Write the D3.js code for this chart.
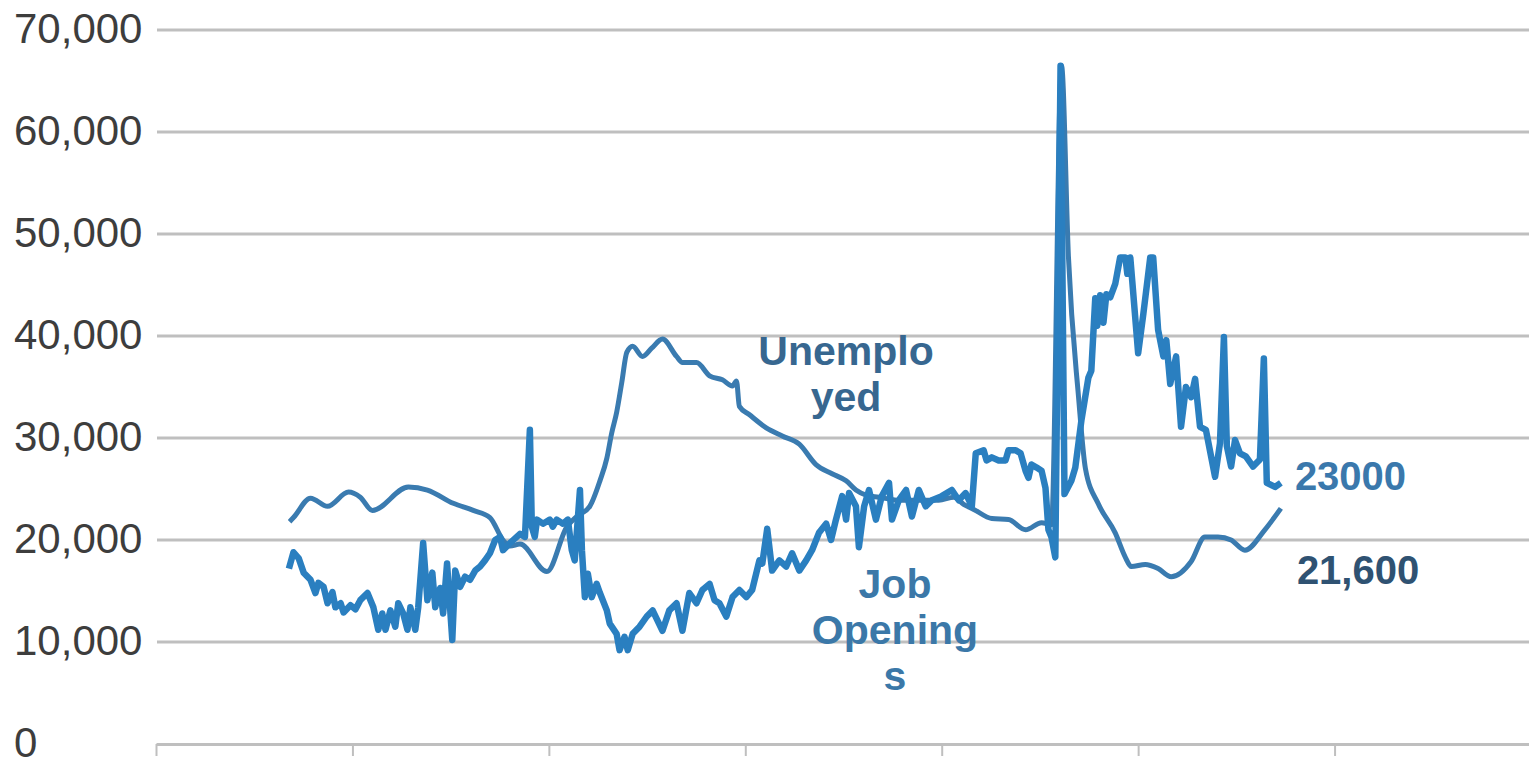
<!DOCTYPE html>
<html>
<head>
<meta charset="utf-8">
<script src="https://cdn.jsdelivr.net/npm/d3@7"></script>
<style>
    body { margin: 0; background: #fff; }
    svg { display: block; }
</style>
</head>
<body>
<svg id="chart"></svg>
<script>
// month index from the start of the axis, value
const unemployed = [
    [40.8, 21800], [42.0, 22200], [47.2, 24100], [52.4, 23300], [58.8, 24700], [62.4, 24200],
    [66.1, 22900], [77.1, 25200], [82.9, 24900], [90.8, 23600], [96.9, 22900], [102.0, 22200],
    [106.0, 20000], [108.1, 19400], [111.2, 19600], [119.4, 16900], [125.5, 21300], [128.5, 22300],
    [132.5, 23300], [135.6, 25800], [137.7, 28000], [139.2, 30500], [140.7, 32500], [142.3, 35500],
    [143.8, 38400], [145.6, 39000], [148.6, 38000], [151.4, 38800], [154.7, 39700], [159.0, 38000],
    [160.8, 37400], [165.1, 37400], [169.1, 36100], [173.0, 35700], [176.1, 35100], [177.3, 35600],
    [178.2, 33100], [181.2, 32300], [186.4, 31000], [191.3, 30200], [196.5, 29400], [201.6, 27400],
    [206.5, 26500], [210.8, 25800], [213.8, 24900], [216.9, 24400], [220.8, 24200], [226.9, 23900],
    [233.0, 23900], [239.1, 23900], [243.7, 24200], [246.7, 23500], [249.8, 23000], [255.3, 22100],
    [260.4, 22000], [265.6, 21000], [270.5, 21700], [273.5, 21500], [276.6, 66500], [278.7, 47800],
    [281.8, 34000], [283.9, 27000], [287.9, 23500], [293.0, 20700], [296.1, 18300], [297.9, 17400],
    [302.2, 17600], [306.1, 17200], [310.1, 16400], [316.2, 17900], [320.4, 20300], [324.4, 20300],
    [328.4, 20000], [332.6, 19000], [338.7, 21000], [343.6, 23100]
];

const jobOpenings = [
    [40.6, 17200], [42.0, 18800], [43.6, 18200], [45.1, 16800], [47.2, 16100], [48.7, 14800],
    [49.6, 15800], [51.2, 15400], [52.4, 13800], [53.9, 14900], [54.8, 13400], [56.4, 13800],
    [57.3, 12900], [59.4, 13600], [60.9, 13200], [62.4, 14100], [64.6, 14800], [66.4, 13400],
    [67.9, 11200], [69.1, 12800], [70.1, 11200], [71.6, 13100], [73.1, 11500], [74.0, 13800],
    [75.5, 12800], [76.8, 11200], [77.7, 13400], [79.2, 11200], [80.1, 13400], [81.6, 19700],
    [82.9, 14100], [84.4, 16800], [85.3, 13400], [86.8, 15300], [87.7, 12800], [88.9, 17700],
    [90.5, 10200], [91.4, 17000], [92.9, 15400], [94.4, 16400], [95.9, 16100], [97.5, 17000],
    [99.0, 17400], [100.5, 18000], [102.0, 18700], [103.6, 20000], [105.1, 20300], [106.0, 19000],
    [108.1, 19700], [111.2, 20600], [112.7, 20300], [114.2, 30800], [114.8, 21300], [115.7, 20300],
    [116.4, 22000], [118.2, 21600], [120.3, 22000], [121.2, 21300], [122.4, 22000], [124.3, 21600],
    [125.8, 22000], [127.0, 19000], [127.9, 18000], [129.5, 24900], [130.1, 19000], [131.0, 14400],
    [131.9, 16700], [133.1, 14400], [134.6, 15700], [135.6, 14800], [137.7, 13100], [138.6, 11800],
    [140.7, 10800], [141.6, 9200], [143.1, 10500], [144.1, 9200], [145.6, 10800], [147.7, 11500],
    [149.9, 12500], [151.7, 13100], [153.2, 12100], [154.7, 11100], [156.8, 13100], [159.0, 13800],
    [160.8, 11100], [162.9, 14800], [165.1, 13800], [166.9, 15100], [169.1, 15700], [170.6, 14100],
    [172.1, 13800], [174.2, 12500], [176.1, 14400], [178.2, 15100], [180.3, 14400], [182.1, 15100],
    [184.3, 18000], [185.2, 17700], [186.7, 21100], [188.2, 17000], [190.4, 18000], [192.5, 17400],
    [194.3, 18700], [196.5, 17000], [198.6, 18000], [200.4, 19000], [202.5, 20700], [204.7, 21600],
    [206.2, 20000], [207.7, 22000], [209.6, 24300], [210.8, 22000], [211.7, 24600], [213.8, 23300],
    [214.7, 19300], [216.3, 23300], [217.8, 24900], [219.9, 22000], [221.7, 24300], [223.9, 25600],
    [224.8, 22000], [226.9, 23900], [229.1, 24900], [230.9, 22300], [233.0, 24900], [235.1, 23300],
    [237.0, 23900], [240.0, 24300], [243.1, 24900], [245.2, 23900], [247.3, 24600], [249.2, 23300],
    [250.4, 28500], [252.8, 28800], [253.7, 27800], [255.3, 28100], [257.4, 27800], [259.5, 27800],
    [260.4, 28800], [262.6, 28800], [264.1, 28500], [265.6, 26800], [266.5, 26100], [267.4, 27400],
    [269.0, 27100], [270.5, 26800], [271.7, 25100], [272.6, 21000], [273.5, 20300], [274.7, 18300],
    [276.3, 66500], [277.5, 24500], [279.6, 25800], [280.8, 27100], [282.7, 31800], [284.8, 35900],
    [285.7, 36600], [286.9, 43700], [287.5, 41000], [288.4, 44000], [289.4, 41300], [290.3, 44100],
    [291.5, 43800], [293.0, 45100], [294.5, 47700], [296.1, 47700], [296.7, 46100], [297.6, 47700],
    [298.2, 45400], [300.0, 38300], [301.6, 42200], [303.7, 47700], [304.6, 47700], [306.1, 40600],
    [307.7, 38000], [308.6, 39600], [309.8, 35300], [311.6, 38000], [313.1, 31100], [314.6, 35000],
    [316.2, 34000], [317.4, 35800], [318.9, 31100], [320.7, 30800], [323.5, 26200], [325.0, 29500],
    [326.2, 39900], [327.1, 29200], [328.4, 27200], [329.6, 29800], [331.1, 28500], [332.9, 28200],
    [335.1, 27200], [337.2, 27900], [338.4, 37800], [339.3, 25600], [341.8, 25200], [343.6, 25600]
];

const yTicks = [0, 10000, 20000, 30000, 40000, 50000, 60000, 70000];
const periods = 7;              // category bands along the bottom axis
const monthsPerPeriod = 60;
const xTicks = d3.range(0, periods * monthsPerPeriod + 1, monthsPerPeriod);

const unemployedLabel = ["Unemplo", "yed"];
const jobsLabel = ["Job", "Opening", "s"];
const jobsEndLabel = "23000";
const unemployedEndLabel = "21,600";

const width = 1529;
const height = 763;
const GRID = "#bfbfbf";
const FONT = "'Liberation Sans', Arial, sans-serif";

const svg = d3.select("#chart")
    .attr("width", width)
    .attr("height", height);

const x = d3.scaleLinear()
    .domain([0, periods * monthsPerPeriod])
    .range([156, 1531]);

const y = d3.scaleLinear()
    .domain([0, 70000])
    .range([744, 30]);

// gridlines
svg.append("g")
    .selectAll("line")
    .data(yTicks.filter(d => d > 0))
    .enter()
    .append("line")
    .attr("x1", 157)
    .attr("x2", width)
    .attr("y1", d => y(d))
    .attr("y2", d => y(d))
    .attr("stroke", GRID)
    .attr("stroke-width", 3);

// y labels, left aligned like the original
svg.append("g")
    .selectAll("text")
    .data(yTicks)
    .enter()
    .append("text")
    .attr("x", 14)
    .attr("y", d => y(d) + 13)
    .attr("font-family", FONT)
    .attr("font-size", "42px")
    .attr("fill", "#3d3d3d")
    .text(d => d3.format(",")(d));

// bottom axis
svg.append("g")
    .attr("transform", `translate(0,${y(0)})`)
    .call(d3.axisBottom(x).tickValues(xTicks).tickSize(12).tickSizeOuter(0).tickFormat(""))
    .call(g => g.select(".domain").attr("stroke", GRID).attr("stroke-width", 3))
    .call(g => g.selectAll(".tick line").attr("stroke", GRID).attr("stroke-width", 2));

const line = d3.line()
    .x(d => x(d[0]))
    .y(d => y(d[1]));

svg.append("path")
    .datum(unemployed)
    .attr("fill", "none")
    .attr("stroke", "#3a7bb0")
    .attr("stroke-width", 5)
    .attr("stroke-linejoin", "round")
    .attr("d", line.curve(d3.curveMonotoneX));

svg.append("path")
    .datum(jobOpenings)
    .attr("fill", "none")
    .attr("stroke", "#2a7fc0")
    .attr("stroke-width", 6.5)
    .attr("stroke-linejoin", "round")
    .attr("d", line.curve(d3.curveLinear));

// series labels
function multiline(lines, cx, baseline, color) {
    svg.append("g")
        .selectAll("text")
        .data(lines)
        .enter()
        .append("text")
        .attr("x", cx)
        .attr("y", (_d, i) => baseline + i * 46)
        .attr("text-anchor", "middle")
        .attr("font-family", FONT)
        .attr("font-weight", "bold")
        .attr("font-size", "41px")
        .attr("fill", color)
        .text(d => d);
}

multiline(unemployedLabel, 846, 365, "#376790");
multiline(jobsLabel, 895, 598, "#3b78a8");

const lastJobs = jobOpenings[jobOpenings.length - 1];
const lastUnemp = unemployed[unemployed.length - 1];

svg.append("text")
    .attr("x", x(lastJobs[0]) + 14)
    .attr("y", y(lastJobs[1]) + 7)
    .attr("font-family", FONT)
    .attr("font-weight", "bold")
    .attr("font-size", "40px")
    .attr("fill", "#3a78ac")
    .text(jobsEndLabel);

svg.append("text")
    .attr("x", x(lastUnemp[0]) + 16)
    .attr("y", y(lastUnemp[1]) + 76)
    .attr("font-family", FONT)
    .attr("font-weight", "bold")
    .attr("font-size", "40px")
    .attr("fill", "#2f5272")
    .text(unemployedEndLabel);
</script>
</body>
</html>
